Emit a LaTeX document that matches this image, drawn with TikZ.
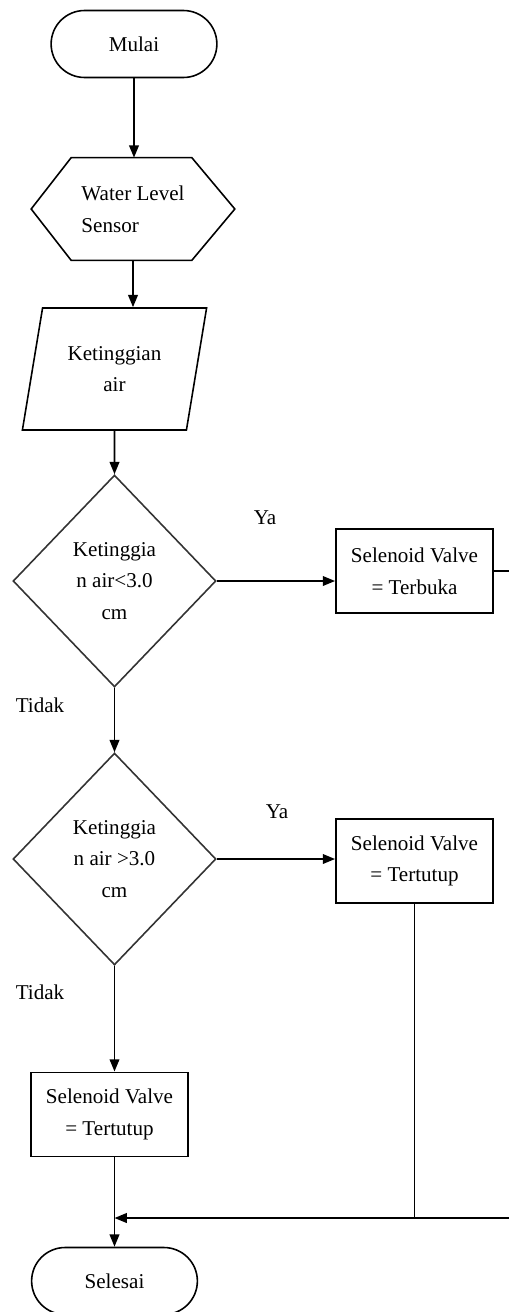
\documentclass[tikz,border=0pt]{standalone}
\usepackage{fontspec}
\setmainfont{Liberation Serif}
\usetikzlibrary{arrows.meta,positioning,shapes.geometric,shapes.misc,calc}

\begin{document}
\begin{tikzpicture}[x=0.02cm, y=-0.02cm,
        font=\fontsize{12}{18}\selectfont,
        term/.style={draw, line width=0.9pt, rounded rectangle, minimum width=3.55cm, minimum height=1.34cm},
        segienam/.style={rectangle, minimum width=4.06cm, minimum height=2.04cm, inner sep=0pt, align=left},
        jajar/.style={draw, line width=0.9pt, trapezium, trapezium left angle=74, trapezium right angle=106, trapezium stretches=true, minimum width=3.7cm, minimum height=2.44cm, inner sep=0pt, align=center},
        belah/.style={draw=black!80, line width=0.9pt, diamond, minimum width=4.06cm, minimum height=4.24cm, inner sep=0pt, align=center},
        kotak/.style={draw, line width=1.1pt, rectangle, minimum width=3.14cm, minimum height=1.68cm, align=center},
        panah/.style={line width=1pt, -{Triangle[length=7pt,width=5.5pt]}},
        garis/.style={line width=1pt}]
    \useasboundingbox (0,0) rectangle (509,1312);
    \clip (0,0) rectangle (509,1312);

    % bentuk
    \node[term] (mulai) at (134,44) {Mulai};
    \node[segienam] (sensor) at (133,209) {Water Level\\Sensor};
    \draw[line width=0.9pt] (sensor.west) -- ($(sensor.north west)+(40,0)$) -- ($(sensor.north east)+(-43,0)$)
        -- (sensor.east) -- ($(sensor.south east)+(-43,0)$) -- ($(sensor.south west)+(40,0)$) -- cycle;
    \node[jajar] (input) at (114.5,369) {Ketinggian\\air};
    \node[belah] (cek1) at (114.5,581) {Ketinggia\\n air<3.0\\cm};
    \node[kotak] (sv1) at (414.5,571) {Selenoid Valve\\= Terbuka};
    \node[belah] (cek2) at (114.5,859) {Ketinggia\\n air >3.0\\cm};
    \node[kotak] (sv2) at (414.5,861) {Selenoid Valve\\= Tertutup};
    \node[kotak] (sv3) at (109.5,1114.5) {Selenoid Valve\\= Tertutup};
    \node[term] (selesai) at (114.5,1281) {Selesai};

    % label
    \node (ya1) at (265,518) {Ya};
    \node (ya2) at (277,812) {Ya};
    \node (tidak1) at (40,705) {Tidak};
    \node (tidak2) at (40,992) {Tidak};

    \coordinate (tepi) at (509,1218);

    % panah
    \draw[panah] (mulai.south) -- (mulai.south |- sensor.north);
    \draw[panah] (sensor.south) -- (sensor.south |- input.north);
    \draw[panah] (input.south) -- (cek1.north);
    \draw[panah] (cek1.east) -- (cek1.east -| sv1.west);
    \draw[panah] (cek1.south) -- (cek2.north);
    \draw[panah] (cek2.east) -- (cek2.east -| sv2.west);
    \draw[panah] (cek2.south) -- (cek2.south |- sv3.north);
    \draw[panah] (sv3.south -| cek2.south) -- (selesai.north);
    \draw[garis] (sv1.east) -- (sv1.east -| tepi);
    \draw[garis] (sv2.south) -- (sv2.south |- tepi);
    \draw[panah] (tepi) -- (cek2.south |- tepi);
\end{tikzpicture}
\end{document}
